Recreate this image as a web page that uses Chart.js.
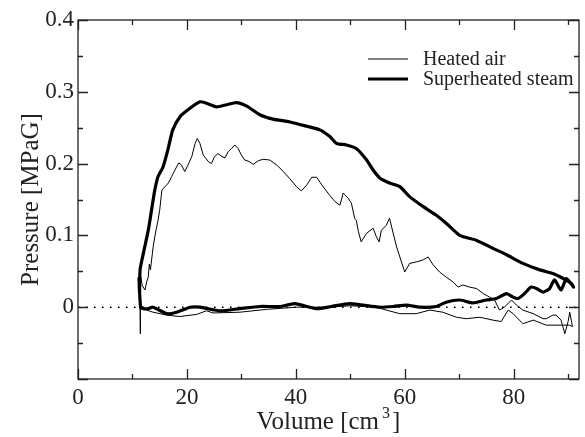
<!DOCTYPE html>
<html>
<head>
<meta charset="utf-8">
<script src="https://cdn.jsdelivr.net/npm/chart.js@4"></script>
<style>
    body { margin: 0; background: #fff; }
    canvas { display: block; }
</style>
</head>
<body>
<canvas id="pvChart" width="585" height="437"></canvas>
<script>
// Data (volume in cm3, pressure in MPaG)
const steamVolume = [11.3, 11.4, 12.0, 12.9, 13.5, 14.1, 14.7, 15.6, 16.5, 17.4, 18.7, 20.2, 22.4, 23.6, 25.4, 27.3, 29.1, 31.0, 33.4, 35.8, 38.9, 42.0, 44.4, 46.2, 47.5, 49.3, 51.1, 53.0, 54.2, 55.4, 57.2, 59.1, 60.9, 63.4, 65.8, 67.6, 70.1, 73.2, 76.2, 78.7, 81.7, 84.8, 87.2, 89.1, 90.6, 91.0,
    89.7, 88.7, 87.5, 86.6, 85.4, 84.2, 83.2, 82.0, 80.8, 79.9, 78.7, 76.8, 75.0, 72.5, 70.1, 67.6, 65.8, 62.8, 60.3, 57.9, 55.4, 49.9, 46.5, 43.8, 39.8, 37.1, 33.4, 29.7, 26.1, 22.4, 20.6, 18.1, 16.3, 13.8, 12.9, 12.0, 11.5, 11.2, 11.3];
const steamPressure = [0.020, 0.052, 0.075, 0.107, 0.135, 0.163, 0.182, 0.195, 0.219, 0.247, 0.265, 0.275, 0.286, 0.284, 0.279, 0.282, 0.285, 0.280, 0.268, 0.262, 0.258, 0.252, 0.247, 0.238, 0.228, 0.226, 0.221, 0.205, 0.191, 0.180, 0.173, 0.168, 0.154, 0.140, 0.128, 0.117, 0.100, 0.093, 0.082, 0.073, 0.061, 0.052, 0.047, 0.040, 0.033, 0.028,
    0.040, 0.024, 0.038, 0.026, 0.021, 0.026, 0.028, 0.019, 0.012, 0.014, 0.019, 0.012, 0.010, 0.006, 0.010, 0.007, 0.001, 0.000, 0.003, 0.001, 0.000, 0.005, 0.001, -0.002, 0.005, 0.001, 0.001, -0.002, -0.005, 0.000, 0.000, -0.007, -0.009, 0.000, -0.002, -0.002, 0.000, 0.040, 0.020];

const airVolume = [11.4, 11.4, 11.5, 11.8, 12.3, 12.6, 12.9, 13.1, 13.3, 13.8, 14.1, 14.4, 14.7, 15.0, 15.4, 16.0, 16.6, 17.2, 17.8, 18.5, 19.0, 19.6, 20.2, 20.9, 21.5, 21.9, 22.4, 23.0, 23.9, 24.5, 25.1, 25.7, 26.4, 27.0, 27.6, 28.2, 28.8, 29.4, 30.0, 30.6, 31.4, 32.2, 33.1, 34.0, 35.2, 36.5, 37.7, 38.9, 40.1, 41.0, 42.0, 42.9, 43.8, 45.0, 46.2, 47.2, 48.1, 48.7, 49.2, 49.6, 50.2, 50.8, 51.1, 51.5, 52.0, 53.0, 54.2, 54.8, 55.3, 55.7, 56.6, 57.2, 58.5, 60.0, 60.9, 62.1, 63.4, 64.3, 65.2, 66.4, 67.6, 68.9, 69.8, 70.7, 71.9, 73.2, 74.4, 75.6, 76.5, 77.4, 78.3, 79.6, 80.5, 81.7, 83.6, 85.4, 86.0, 87.2, 87.8, 88.7, 89.4, 90.0, 90.3, 90.8,
    90.3, 86.0, 83.6, 81.7, 79.9, 79.0, 77.7, 76.2, 73.8, 71.3, 69.5, 67.0, 64.6, 62.1, 59.1, 56.6, 54.8, 50.0, 46.0, 40.1, 34.6, 29.7, 24.8, 23.6, 21.8, 18.7, 16.3, 13.8, 12.6, 11.7, 11.4];
const airPressure = [0.000, -0.037, 0.046, 0.030, 0.024, 0.035, 0.042, 0.060, 0.052, 0.084, 0.098, 0.110, 0.121, 0.135, 0.163, 0.168, 0.173, 0.182, 0.191, 0.201, 0.198, 0.189, 0.198, 0.210, 0.228, 0.235, 0.228, 0.212, 0.203, 0.200, 0.210, 0.214, 0.210, 0.208, 0.217, 0.221, 0.226, 0.221, 0.212, 0.205, 0.203, 0.199, 0.204, 0.206, 0.205, 0.198, 0.189, 0.179, 0.168, 0.162, 0.170, 0.181, 0.181, 0.168, 0.156, 0.147, 0.142, 0.159, 0.155, 0.152, 0.145, 0.124, 0.121, 0.105, 0.091, 0.103, 0.110, 0.098, 0.091, 0.107, 0.114, 0.124, 0.084, 0.049, 0.061, 0.063, 0.066, 0.070, 0.059, 0.049, 0.042, 0.035, 0.028, 0.031, 0.028, 0.026, 0.019, 0.014, 0.010, -0.004, 0.000, 0.010, 0.003, -0.004, -0.009, -0.016, -0.016, -0.011, -0.011, -0.018, -0.037, -0.020, -0.007, -0.027,
    -0.025, -0.025, -0.018, -0.023, -0.009, -0.004, -0.020, -0.018, -0.014, -0.016, -0.014, -0.007, -0.004, -0.009, -0.009, -0.004, 0.000, 0.002, 0.000, 0.000, -0.003, -0.007, -0.008, -0.005, -0.010, -0.013, -0.011, -0.007, -0.004, 0.002, 0.000];

const zeroVolume = [0, 92];
const zeroPressure = [0, 0];

const xTicks = [0, 20, 40, 60, 80];
const yTicks = [-0.1, 0, 0.1, 0.2, 0.3, 0.4];
const seriesNames = ['Heated air', 'Superheated steam'];

const INK = '#222';
const SERIF = "'Liberation Serif', 'Times New Roman', serif";

const toPoints = (xs, ys) => xs.map((x, i) => ({ x: x, y: ys[i] }));

// Inward ticks on all four sides plus the frame
const frameTicks = {
    id: 'frameTicks',
    afterDraw: (chart) => {
        const ctx = chart.ctx;
        const { left, right, top, bottom } = chart.chartArea;
        const xs = chart.scales.x;
        const ys = chart.scales.y;
        ctx.save();
        ctx.strokeStyle = INK;
        ctx.lineWidth = 1.3;
        ctx.strokeRect(left, top, right - left, bottom - top);
        ctx.beginPath();
        for (let v = 0; v <= 90; v += 10) {
            const px = Math.round(xs.getPixelForValue(v)) + 0.5;
            const len = v % 20 === 0 ? 10 : 5;
            ctx.moveTo(px, bottom); ctx.lineTo(px, bottom - len);
            ctx.moveTo(px, top); ctx.lineTo(px, top + len);
        }
        for (let i = -2; i <= 8; i++) {
            const v = i * 0.05;
            const py = Math.round(ys.getPixelForValue(v)) + 0.5;
            const len = i % 2 === 0 ? 10 : 5;
            ctx.moveTo(left, py); ctx.lineTo(left + len, py);
            ctx.moveTo(right, py); ctx.lineTo(right - len, py);
        }
        ctx.stroke();
        ctx.restore();
    }
};

// Axis titles (x title has a raised "3") and the legend box
const titlesAndLegend = {
    id: 'titlesAndLegend',
    afterDraw: (chart) => {
        const ctx = chart.ctx;
        const { left, right, top, bottom } = chart.chartArea;
        ctx.save();
        ctx.fillStyle = INK;
        ctx.textBaseline = 'alphabetic';

        // x title
        ctx.font = `25px ${SERIF}`;
        const main = 'Volume [cm';
        const close = ']';
        const wMain = ctx.measureText(main).width;
        const wClose = ctx.measureText(close).width;
        ctx.font = `16px ${SERIF}`;
        const wSup = ctx.measureText('3').width;
        const total = wMain + 3 + wSup + 2 + wClose;
        let x0 = (left + right) / 2 - total / 2;
        ctx.font = `25px ${SERIF}`;
        ctx.fillText(main, x0, 429);
        ctx.font = `16px ${SERIF}`;
        ctx.fillText('3', x0 + wMain + 3, 418);
        ctx.font = `25px ${SERIF}`;
        ctx.fillText(close, x0 + wMain + 3 + wSup + 2, 429);

        // y title
        ctx.save();
        ctx.translate(38, (top + bottom) / 2);
        ctx.rotate(-Math.PI / 2);
        ctx.textAlign = 'center';
        ctx.font = `25px ${SERIF}`;
        ctx.fillText('Pressure [MPaG]', 0, 0);
        ctx.restore();

        // legend
        ctx.font = `20px ${SERIF}`;
        ctx.textBaseline = 'middle';
        ctx.strokeStyle = '#000';
        const rows = [{ y: 59, w: 1 }, { y: 79, w: 3.2 }];
        rows.forEach((row, i) => {
            ctx.lineWidth = row.w;
            ctx.beginPath();
            ctx.moveTo(368, row.y);
            ctx.lineTo(408, row.y);
            ctx.stroke();
            ctx.fillText(seriesNames[i], 423, row.y + 1);
        });
        ctx.restore();
    }
};

const chart = new Chart(document.getElementById('pvChart'), {
    type: 'scatter',
    data: {
        datasets: [
            {
                label: 'zero',
                data: toPoints(zeroVolume, zeroPressure),
                showLine: true,
                borderColor: '#000',
                borderWidth: 1.6,
                borderDash: [1.6, 6.4],
                pointRadius: 0
            },
            {
                label: seriesNames[0],
                data: toPoints(airVolume, airPressure),
                showLine: true,
                borderColor: '#000',
                borderWidth: 1,
                pointRadius: 0,
                tension: 0
            },
            {
                label: seriesNames[1],
                data: toPoints(steamVolume, steamPressure),
                showLine: true,
                borderColor: '#000',
                borderWidth: 3.2,
                pointRadius: 0,
                tension: 0.2
            }
        ]
    },
    options: {
        responsive: false,
        animation: false,
        devicePixelRatio: 1,
        layout: { padding: { left: 0, right: 6, top: 20, bottom: 0 } },
        plugins: {
            legend: { display: false },
            tooltip: { enabled: false }
        },
        scales: {
            x: {
                type: 'linear',
                min: 0,
                max: 92,
                grid: { display: false, drawTicks: false },
                border: { display: false },
                afterBuildTicks: (scale) => { scale.ticks = xTicks.map(v => ({ value: v })); },
                afterFit: (scale) => { scale.height = 58; },
                ticks: {
                    padding: 5,
                    color: INK,
                    font: { family: SERIF, size: 23 },
                    maxRotation: 0
                }
            },
            y: {
                type: 'linear',
                min: -0.1,
                max: 0.4,
                grid: { display: false, drawTicks: false },
                border: { display: false },
                afterBuildTicks: (scale) => { scale.ticks = yTicks.map(v => ({ value: v })); },
                afterFit: (scale) => { scale.width = 78; },
                ticks: {
                    padding: 4,
                    color: INK,
                    font: { family: SERIF, size: 23 },
                    callback: (v) => {
                        if (v < -0.05) return '';
                        if (Math.abs(v) < 1e-9) return '0';
                        return v.toFixed(1);
                    }
                }
            }
        }
    },
    plugins: [frameTicks, titlesAndLegend]
});
</script>
</body>
</html>
